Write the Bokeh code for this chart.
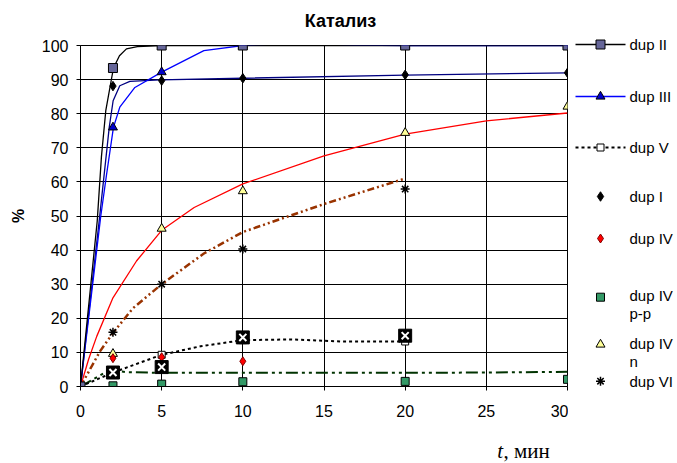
from bokeh.plotting import figure
from bokeh.layouts import row, column
from bokeh.models import Range1d, FixedTicker
from bokeh.core.properties import value
from bokeh.embed import file_html
from bokeh.resources import INLINE

# ---------------- data ----------------
title_text = "Катализ"
y_label = "%"
x_label_var = "t"
x_label_unit = ", мин"
x_ticks = [0, 5, 10, 15, 20, 25, 30]
y_ticks = [0, 10, 20, 30, 40, 50, 60, 70, 80, 90, 100]

t_all = [0, 2, 5, 10, 20, 30]
t_20 = [0, 2, 5, 10, 20]
t_10 = [0, 2, 5, 10]
t_big = [2, 5, 10, 20]

dup_II = [0, 93.4, 100, 100, 100, 100]
dup_III = [0, 76, 92.2, 100, 100, 100]
dup_V = [0, 4.1, 9.3, 13.6, 13.2]
dup_I = [0, 88.1, 89.7, 90.4, 91.4, 92.0]
dup_IV = [0, 8.3, 8.6, 7.4]
dup_IV_pp = [0, 0.2, 0.7, 1.4, 1.5, 2.1]
dup_IV_n = [0, 9.6, 46.3, 57.3, 74.4, 82.1]
dup_VI = [0, 15.9, 30, 40.3, 57.9]
big_x = [4.1, 5.7, 14.4, 14.9]

# smoothed curves
c_II_x = [0, 1.03, 1.29, 1.56, 2.03, 2.4, 2.83, 3.5, 5, 10, 20, 30]
c_II_y = [0, 48.5, 67.4, 81, 93.4, 97, 99, 99.7, 100, 100, 100, 100]
c_III_x = [0, 1.25, 1.6, 2.03, 2.42, 3.35, 5, 7.6, 10, 13.5, 17, 20, 30]
c_III_y = [0, 50, 62, 76, 81.9, 87.7, 92.2, 98.5, 100, 100.8, 100.1, 100, 100]
c_I_x = [0, 1.15, 1.77, 2.01, 2.42, 3.04, 4.9, 10, 20, 30]
c_I_y = [0, 48.5, 76, 83.8, 88.2, 89.5, 89.9, 90.4, 91.3, 92.0]
c_V_x = [0, 2, 5, 7.4, 10, 13, 16, 20]
c_V_y = [0, 4.1, 9.3, 11.8, 13.6, 13.8, 13.2, 13.2]
c_red_x = [0, 0.5, 1, 2, 3.45, 5, 7, 10, 15, 20, 25, 30]
c_red_y = [0, 8, 14.7, 26, 36.8, 45.8, 52.5, 59.4, 67.6, 74, 77.9, 80.2]
c_brown_x = [0, 1.2, 2, 3.24, 5, 7.6, 10, 15, 20]
c_brown_y = [0, 10.3, 15.7, 23, 30, 39, 45.3, 53.5, 61]
c_green_x = [0, 1.8, 2.8, 5, 10, 20, 25, 30]
c_green_y = [0, 4.9, 4.2, 4.0, 4.0, 4.0, 4.1, 4.3]

legend_labels = ["dup II", "dup III", "dup V", "dup I", "dup IV",
                 "dup IV\np-p", "dup IV\nn", "dup VI"]

FONT = "Liberation Sans"
SERIF = "Liberation Serif"

W_MAIN, W_LEG = 568, 108
H_TOP, H_MAIN, H_BOT = 35, 399, 29
H_ALL = H_TOP + H_MAIN + H_BOT
B_LEFT, B_RIGHT = 80, 1


def strip(width, height, y0, xr, bl=0, br=0):
    f = figure(width=width, height=height, output_backend="svg", toolbar_location=None,
               x_range=xr, y_range=Range1d(y0 + height, y0),
               min_border=0, min_border_left=bl, min_border_right=br)
    f.axis.visible = False
    f.grid.visible = False
    f.outline_line_color = None
    f.background_fill_color = "white"
    f.border_fill_color = "white"
    return f


# ---------------- title strip (x in data units, same frame as chart) ----------------
top = strip(W_MAIN, H_TOP, 0, Range1d(0, 30), B_LEFT, B_RIGHT)
top.text(x=[16.02], y=[20.5], text=[title_text], text_font=value(FONT),
         text_font_size="18px", text_font_style="bold", text_align="center",
         text_baseline="middle", text_color="black")

# ---------------- main chart ----------------
p = figure(width=W_MAIN, height=H_MAIN, output_backend="svg", toolbar_location=None,
           x_range=Range1d(0, 30), y_range=Range1d(0, 100),
           min_border_left=B_LEFT, min_border_right=B_RIGHT, min_border_top=10,
           min_border_bottom=48)
p.background_fill_color = "white"
p.border_fill_color = "white"
p.outline_line_color = "black"

for ax in (p.xaxis[0], p.yaxis[0]):
    ax.major_tick_in = 0
    ax.major_tick_out = 4
    ax.minor_tick_line_color = None
    ax.axis_line_color = "black"
    ax.major_tick_line_color = "black"
    ax.major_label_text_font = FONT
    ax.major_label_text_font_size = "16px"
    ax.major_label_text_color = "black"
p.xaxis[0].ticker = FixedTicker(ticks=x_ticks)
p.yaxis[0].ticker = FixedTicker(ticks=y_ticks)
p.xaxis[0].major_label_standoff = 14
p.yaxis[0].major_label_standoff = 8
p.yaxis[0].axis_label = y_label
p.yaxis[0].axis_label_text_font = FONT
p.yaxis[0].axis_label_text_font_size = "16px"
p.yaxis[0].axis_label_text_font_style = "bold"
p.yaxis[0].axis_label_text_color = "black"
p.yaxis[0].axis_label_standoff = 12

p.xgrid[0].ticker = FixedTicker(ticks=x_ticks)
p.ygrid[0].ticker = FixedTicker(ticks=y_ticks)
for g in (p.xgrid[0], p.ygrid[0]):
    g.grid_line_color = "black"
    g.grid_line_width = 1

# lines
p.line(c_green_x, c_green_y, line_color="#003300", line_width=2, line_dash="12 4 3 4 3 4")
p.line(c_brown_x, c_brown_y, line_color="#993300", line_width=2.5, line_dash="7 3 2 3 2 3")
p.line(c_red_x, c_red_y, line_color="#FF0000", line_width=1.3)
p.line(c_V_x, c_V_y, line_color="black", line_width=2, line_dash="3 3")
p.line(c_I_x, c_I_y, line_color="#000080", line_width=1.3)
p.line(c_III_x, c_III_y, line_color="#0000FF", line_width=1.3)
p.line(c_II_x, c_II_y, line_color="black", line_width=1.3)

# markers
p.scatter(t_all, dup_IV_pp, marker="square", size=8, fill_color="#339966", line_color="black")
p.scatter(t_20, dup_V, marker="square", size=7, fill_color="white", line_color="black")
p.scatter(t_all, dup_IV_n, marker="triangle", size=9, fill_color="#FFFF99", line_color="black")
p.scatter(t_10, dup_IV, marker="diamond", size=9, fill_color="#FF0000", line_color="#800000")
p.scatter(t_20, dup_VI, marker="asterisk", size=9, line_color="black", line_width=1.5)
p.scatter(t_big, big_x, marker="square", size=13, fill_color="black", line_color="black")
p.scatter(t_big, big_x, marker="x", size=10, line_color="white", line_width=2)
p.scatter(t_all, dup_I, marker="diamond", size=9.5, fill_color="black", line_color="black")
p.scatter(t_all, dup_III, marker="triangle", size=9, fill_color="#0000CC", line_color="black")
p.scatter(t_all, dup_II, marker="square", size=9, fill_color="#666699", line_color="black")

# ---------------- x-label strip (x in data units, same frame as chart) ----------------
bot = strip(W_MAIN, H_BOT, H_TOP + H_MAIN, Range1d(0, 30), B_LEFT, B_RIGHT)
bot.text(x=[25.67], y=[450.9], text=[x_label_var], text_font=value(SERIF),
         text_font_size="21px", text_font_style="italic", text_align="left",
         text_baseline="middle", text_color="black")
bot.text(x=[26.05], y=[450.9], text=[x_label_unit], text_font=value(SERIF),
         text_font_size="21px", text_align="left",
         text_baseline="middle", text_color="black")

# ---------------- legend panel ----------------
leg = strip(W_LEG, H_ALL, 0, Range1d(0, W_LEG))
ly = [44, 96, 147, 196, 238, 296.7, 344, 380.7]
lx0, lx1, mx, tx = 7, 57, 32, 61
leg.line([lx0, lx1], [ly[0], ly[0]], line_color="black", line_width=1.3)
leg.scatter([mx], [ly[0]], marker="square", size=9, fill_color="#666699", line_color="black")
leg.line([lx0, lx1], [ly[1], ly[1]], line_color="#0000FF", line_width=1.3)
leg.scatter([mx], [ly[1]], marker="triangle", size=9, fill_color="#0000CC", line_color="black")
leg.line([lx0, lx1], [ly[2], ly[2]], line_color="black", line_width=2, line_dash="3 3")
leg.scatter([mx], [ly[2]], marker="square", size=7, fill_color="white", line_color="black")
leg.scatter([mx], [ly[3]], marker="diamond", size=9.5, fill_color="black", line_color="black")
leg.scatter([mx], [ly[4]], marker="diamond", size=9, fill_color="#FF0000", line_color="#800000")
leg.scatter([mx], [ly[5]], marker="square", size=8, fill_color="#339966", line_color="black")
leg.scatter([mx], [ly[6]], marker="triangle", size=9, fill_color="#FFFF99", line_color="black")
leg.scatter([mx], [ly[7]], marker="asterisk", size=9, line_color="black", line_width=1.5)

tx_list, ty_list, tt_list = [], [], []
line_gap = 18
for lab, yy in zip(legend_labels, ly):
    parts = lab.split("\n")
    for i, part in enumerate(parts):
        tx_list.append(tx)
        ty_list.append(yy + i * line_gap - (1.5 if len(parts) > 1 else 0))
        tt_list.append(part)
leg.text(x=tx_list, y=ty_list, text=tt_list, text_font=value(FONT),
         text_font_size="15px", text_baseline="middle", text_align="left",
         text_color="black")

layout = row(column(top, p, bot), leg)
open("out.html", "w").write(file_html(layout, INLINE))
